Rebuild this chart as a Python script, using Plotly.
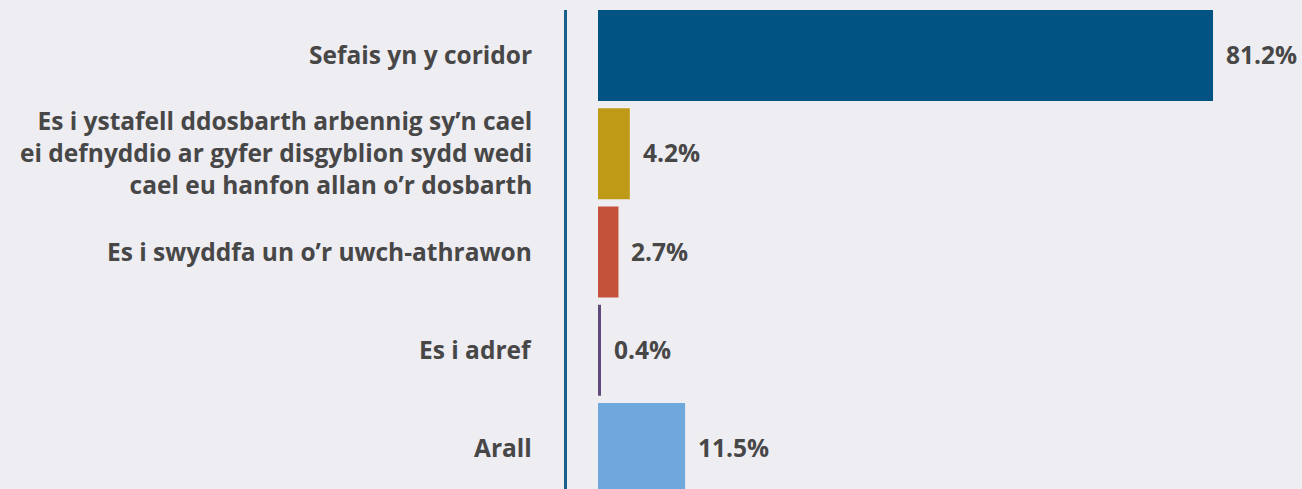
import plotly.graph_objects as go

categories = [
    "Sefais yn y coridor",
    "Es i ystafell ddosbarth arbennig sy’n cael<br>ei defnyddio ar gyfer disgyblion sydd wedi<br>cael eu hanfon allan o’r dosbarth",
    "Es i swyddfa un o’r uwch-athrawon",
    "Es i adref",
    "Arall",
]
values = [81.2, 4.2, 2.7, 0.4, 11.5]
value_labels = ["81.2%", "4.2%", "2.7%", "0.4%", "11.5%"]
colors = ["#005383", "#BF9A16", "#C4523A", "#5F4B7B", "#6FA8DC"]

W, H = 1302, 489
px_per_unit = 7.574
zero_px = 598
x_min = -zero_px / px_per_unit
x_max = (W - zero_px) / px_per_unit

row_px = 98.25
top_val = -0.5 - 6.4 / row_px
bot_val = top_val + H / row_px

pos = list(range(len(categories)))
text_color = "#474747"
font_family = "Open Sans"
font_size = 24.5

fig = go.Figure()
fig.add_trace(go.Bar(
    x=values, y=pos, orientation="h",
    marker=dict(color=colors, line=dict(width=0)),
    width=0.926, hoverinfo="skip",
))

annotations = []
for p, cat in zip(pos, categories):
    annotations.append(dict(
        x=534 / W, xref="paper", y=p, yref="y", text=cat, yshift=1,
        xanchor="right", yanchor="middle", align="right", showarrow=False,
        font=dict(family=font_family, size=font_size, color=text_color, weight="bold"),
    ))
for p, v, lab in zip(pos, values, value_labels):
    annotations.append(dict(
        x=v, xref="x", y=p, yref="y", text=lab, xshift=11, yshift=1,
        xanchor="left", yanchor="middle", showarrow=False,
        font=dict(family=font_family, size=font_size, color=text_color, weight="bold"),
    ))

line_x = (565.5 - zero_px) / px_per_unit
fig.add_shape(type="line", xref="x", yref="y", x0=line_x, x1=line_x,
              y0=-0.463, y1=bot_val + 0.2, line=dict(color="#1A5E8C", width=3))

fig.update_layout(
    width=W, height=H,
    margin=dict(l=0, r=0, t=0, b=0),
    paper_bgcolor="#EEEDF2", plot_bgcolor="#EEEDF2",
    showlegend=False,
    annotations=annotations,
    xaxis=dict(range=[x_min, x_max], visible=False, fixedrange=True),
    yaxis=dict(range=[bot_val, top_val], visible=False, fixedrange=True),
)

fig.write_html(
    "out.html",
    config={"displayModeBar": False},
    post_script="document.body.style.margin='0';document.body.style.background='#EEEDF2';",
)
